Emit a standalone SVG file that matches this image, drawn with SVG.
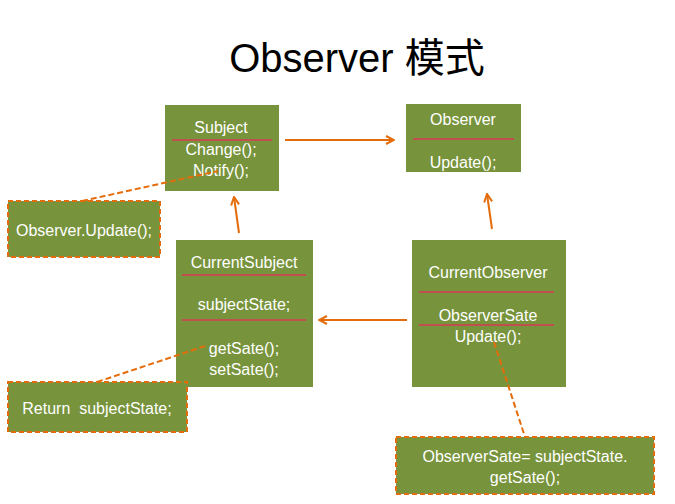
<svg xmlns="http://www.w3.org/2000/svg" width="675" height="504" viewBox="0 0 675 504">
<style>
.box{fill:#77933C}
.note{fill:#77933C;stroke:#E46C0A;stroke-width:2;stroke-dasharray:5,3}
.sep{stroke:#C0504D;stroke-width:2}
.t{font-family:"Liberation Sans","Noto Sans",sans-serif;font-size:16px;fill:#fff;text-anchor:middle}
.con{stroke:#E46C0A;stroke-width:2;fill:none}
.dash{stroke:#E46C0A;stroke-width:2;fill:none;stroke-dasharray:6,3}
</style>
<defs>
<marker id="arr" viewBox="0 0 10 10" refX="9" refY="5" markerWidth="5" markerHeight="5" orient="auto">
<path d="M1,1 L9,5 L1,9" fill="none" stroke="#E46C0A" stroke-width="2"/>
</marker>
</defs>
<rect width="675" height="504" fill="#fff"/>
<text x="357" y="72" font-family="'Liberation Sans','Noto Sans CJK SC',sans-serif" font-size="40" text-anchor="middle" fill="#000">Observer 模式</text>

<g id="subject">
<rect class="box" x="165" y="105" width="114" height="86"/>
<line class="sep" x1="172" y1="140" x2="272" y2="140"/>
<text class="t" x="221" y="133">Subject</text>
<text class="t" x="221" y="155">Change();</text>
<text class="t" x="221" y="176">Notify();</text>
</g>

<g id="observer">
<rect class="box" x="406" y="104" width="115" height="68"/>
<line class="sep" x1="413" y1="139" x2="514" y2="139"/>
<text class="t" x="463" y="125">Observer</text>
<text class="t" x="463" y="168">Update();</text>
</g>

<g id="currentSubject">
<rect class="box" x="176" y="240" width="137" height="147"/>
<line class="sep" x1="182" y1="275" x2="306" y2="275"/>
<line class="sep" x1="182" y1="320" x2="306" y2="320"/>
<text class="t" x="244" y="268">CurrentSubject</text>
<text class="t" x="244" y="310">subjectState;</text>
<text class="t" x="244" y="354">getSate();</text>
<text class="t" x="244" y="375">setSate();</text>
</g>

<g id="currentObserver">
<rect class="box" x="412" y="240" width="154" height="147"/>
<line class="sep" x1="419" y1="292" x2="554" y2="292"/>
<line class="sep" x1="419" y1="325" x2="554" y2="325"/>
<text class="t" x="488" y="278">CurrentObserver</text>
<text class="t" x="488" y="321">ObserverSate</text>
<text class="t" x="488" y="342">Update();</text>
</g>

<g id="noteNotify">
<rect class="note" x="8" y="201" width="152" height="56"/>
<text class="t" x="84" y="236">Observer.Update();</text>
</g>

<g id="noteGetState">
<rect class="note" x="8" y="382" width="179" height="50"/>
<text class="t" x="97" y="414">Return&#160; subjectState;</text>
</g>

<g id="noteUpdate">
<rect class="note" x="396" y="437" width="258" height="57"/>
<text class="t" x="525" y="462">ObserverSate= subjectState.</text>
<text class="t" x="525" y="483">getSate();</text>
</g>

<g id="connectors">
<line class="con" x1="285" y1="140" x2="394" y2="140" marker-end="url(#arr)"/>
<line class="con" x1="407" y1="320" x2="319" y2="320" marker-end="url(#arr)"/>
<line class="con" x1="492" y1="229" x2="487" y2="194" marker-end="url(#arr)"/>
<line class="con" x1="239" y1="233" x2="234" y2="197" marker-end="url(#arr)"/>
<path class="dash" d="M82,201 L218,171"/>
<path class="dash" d="M97,382 L205,346"/>
<path class="dash" d="M494,342 L525,437"/>
</g>
</svg>
